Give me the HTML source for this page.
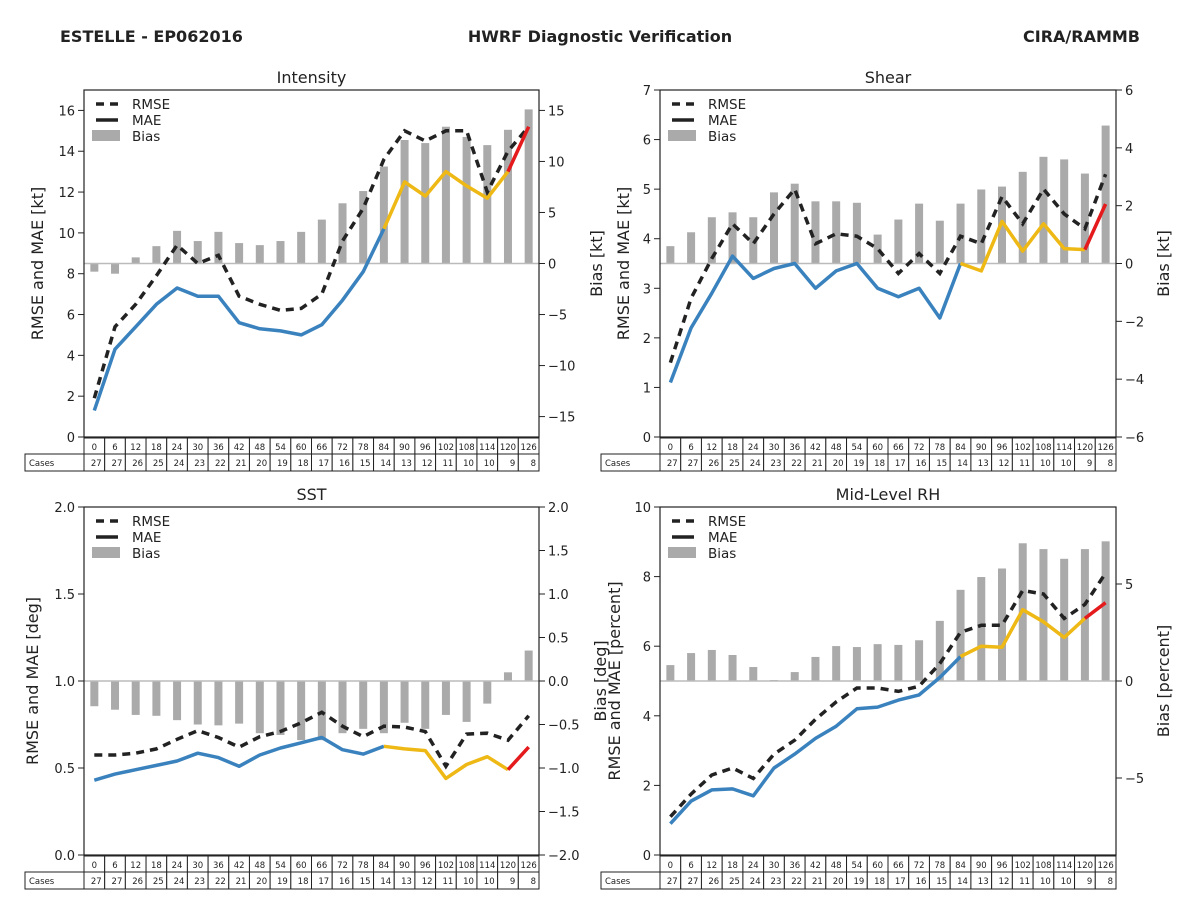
<!DOCTYPE html>
<html><head><meta charset="utf-8"><style>
html,body{margin:0;padding:0;background:#fff;}
svg{display:block;font-family:"DejaVu Sans","Liberation Sans",sans-serif;}
</style></head><body>
<svg id="chart" width="1200" height="900" viewBox="0 0 1200 900">
<text x="60" y="42" font-size="16" font-weight="bold" fill="#222">ESTELLE - EP062016</text>
<text x="600" y="42" font-size="16" font-weight="bold" fill="#222" text-anchor="middle">HWRF Diagnostic Verification</text>
<text x="1140" y="42" font-size="16" font-weight="bold" fill="#222" text-anchor="end">CIRA/RAMMB</text>
</svg>
<script>
const hours = [0,6,12,18,24,30,36,42,48,54,60,66,72,78,84,90,96,102,108,114,120,126];
const cases = [27,27,26,25,24,23,22,21,20,19,18,17,16,15,14,13,12,11,10,10,9,8];

const intRmse = [1.9,5.4,6.5,7.9,9.4,8.5,8.9,6.9,6.5,6.2,6.3,7.0,9.6,11.2,13.6,15.0,14.5,15.0,15.0,12.0,14.0,15.2];
const intMae  = [1.3,4.3,5.4,6.5,7.3,6.9,6.9,5.6,5.3,5.2,5.0,5.5,6.7,8.1,10.2,12.5,11.8,13.0,12.3,11.7,13.0,15.2];
const intBias = [-0.8,-1.0,0.6,1.7,3.2,2.2,3.1,2.0,1.8,2.2,3.1,4.3,5.9,7.1,9.5,12.1,11.8,13.4,12.4,11.6,13.1,15.1];

const shrRmse = [1.5,2.8,3.6,4.3,3.9,4.5,5.0,3.9,4.1,4.05,3.8,3.3,3.7,3.3,4.05,3.9,4.85,4.3,5.0,4.5,4.2,5.3];
const shrMae  = [1.1,2.2,2.9,3.65,3.2,3.4,3.5,3.0,3.35,3.5,3.0,2.83,3.0,2.4,3.5,3.35,4.35,3.75,4.3,3.8,3.78,4.7];
const shrBias = [0.6,1.08,1.6,1.77,1.6,2.46,2.76,2.15,2.15,2.1,1.0,1.52,2.07,1.48,2.07,2.56,2.66,3.17,3.69,3.6,3.11,4.77];

const sstRmse = [0.575,0.575,0.585,0.61,0.665,0.715,0.675,0.62,0.68,0.71,0.76,0.82,0.74,0.68,0.74,0.735,0.71,0.51,0.695,0.70,0.66,0.80];
const sstMae  = [0.43,0.465,0.49,0.515,0.54,0.585,0.56,0.51,0.575,0.615,0.645,0.675,0.605,0.58,0.625,0.61,0.60,0.44,0.52,0.565,0.49,0.62];
const sstBias = [-0.29,-0.33,-0.39,-0.4,-0.45,-0.5,-0.51,-0.49,-0.6,-0.62,-0.68,-0.68,-0.6,-0.55,-0.6,-0.48,-0.55,-0.39,-0.47,-0.26,0.1,0.35];

const rhRmse = [1.1,1.75,2.3,2.5,2.2,2.9,3.3,3.9,4.4,4.8,4.8,4.7,4.85,5.5,6.4,6.6,6.6,7.6,7.5,6.8,7.2,8.1];
const rhMae  = [0.9,1.55,1.87,1.9,1.7,2.5,2.9,3.35,3.7,4.2,4.25,4.45,4.6,5.1,5.7,6.0,5.97,7.05,6.7,6.25,6.8,7.25];
const rhBias = [0.82,1.44,1.6,1.34,0.72,0.05,0.46,1.24,1.8,1.75,1.9,1.86,2.1,3.1,4.7,5.36,5.8,7.1,6.8,6.3,6.8,7.2];

const intLeftTicks = [0,2,4,6,8,10,12,14,16];
const intRightTicks = [-15,-10,-5,0,5,10,15];
const shrLeftTicks = [0,1,2,3,4,5,6,7];
const shrRightTicks = [-6,-4,-2,0,2,4,6];
const sstLeftTicks = [0,0.5,1.0,1.5,2.0];
const sstRightTicks = [-2,-1.5,-1,-0.5,0,0.5,1,1.5,2];
const rhLeftTicks = [0,2,4,6,8,10];
const rhRightTicks = [-5,0,5];

const NS = 'http://www.w3.org/2000/svg';
const svg = document.getElementById('chart');
function mk(tag, attrs, parent){
  const e = document.createElementNS(NS, tag);
  for (const k in attrs) e.setAttribute(k, attrs[k]);
  (parent||svg).appendChild(e); return e;
}
function fmt(v, dec){ const s = v.toFixed(dec); return s.replace('-', '\u2212'); }

function panel(o){
  const g = mk('g', {});
  
  
  const L=o.x, R=o.x+o.w, T=o.y, B=o.y+o.h;
  const xs = i => L + (i+0.5)*o.w/hours.length;
  const yl = v => B - (v - o.lmin)/(o.lmax - o.lmin)*o.h;
  const yr = v => B - (v - o.rmin)/(o.rmax - o.rmin)*o.h;
  const z = yr(0);
  o.bias.forEach((v,i)=>{
    const y1 = yr(v);
    const r = mk('rect', {x: xs(i)-4, y: Math.min(y1,z), width: 8, height: Math.abs(y1-z), fill:'#aaaaaa'}, g);
    
    
  });
  const zl = mk('line', {x1:L, x2:R, y1:z, y2:z, stroke:'#bbbbbb', 'stroke-width':1.5}, g);
  
  
  const rp = o.rmse.map((v,i)=>xs(i).toFixed(1)+','+yl(v).toFixed(1)).join(' ');
  const rl = mk('polyline', {points: rp, fill:'none', stroke:'#222', 'stroke-width':3.5, 'stroke-dasharray':'8 6'}, g);
  
  
  const segs = [[0,14,'#3a82be','mae-line-early'],[14,20,'#eeb815','mae-line-mid'],[20,21,'#e41a1c','mae-line-late']];
  segs.forEach(s=>{
    const pts = [];
    for (let i=s[0]; i<=s[1]; i++) pts.push(xs(i).toFixed(1)+','+yl(o.mae[i]).toFixed(1));
    const p = mk('polyline', {points: pts.join(' '), fill:'none', stroke:s[2], 'stroke-width':3.5, 'stroke-linejoin':'round'}, g);
    
    
  });
  const fr = mk('rect', {x:L, y:T, width:o.w, height:o.h, fill:'none', stroke:'#222', 'stroke-width':1.2}, g);
  
  
  o.lt.forEach(v=>{
    const y = yl(v);
    mk('line', {x1:L-6, x2:L, y1:y, y2:y, stroke:'#222', 'stroke-width':1}, g);
    const t = mk('text', {x:L-9, y:y+5, 'font-size':13, fill:'#222', 'text-anchor':'end'}, g);
    t.textContent = fmt(v, o.ldec);
    
    
  });
  o.rt.forEach(v=>{
    const y = yr(v);
    mk('line', {x1:R, x2:R+6, y1:y, y2:y, stroke:'#222', 'stroke-width':1}, g);
    const t = mk('text', {x:R+9, y:y+5, 'font-size':13, fill:'#222'}, g);
    t.textContent = fmt(v, o.rdec);
    
    
  });
  const tt = mk('text', {x:(L+R)/2, y:T-7, 'font-size':16, fill:'#222', 'text-anchor':'middle'}, g);
  tt.textContent = o.title;
  
  
  const cy = (T+B)/2;
  const lt = mk('text', {x:0, y:0, 'font-size':16, fill:'#222', 'text-anchor':'middle', transform:`translate(${o.llx},${cy}) rotate(-90)`}, g);
  lt.textContent = o.llab;
  
  
  const rt = mk('text', {x:0, y:0, 'font-size':16, fill:'#222', 'text-anchor':'middle', transform:`translate(${R+o.rlx},${cy}) rotate(-90)`}, g);
  rt.textContent = o.rlab;
  
  
  const lg = mk('g', {}, g);
  
  
  mk('line', {x1:L+12, x2:L+34, y1:T+14, y2:T+14, stroke:'#222', 'stroke-width':3.5, 'stroke-dasharray':'8 6'}, lg);
  mk('line', {x1:L+12, x2:L+34, y1:T+30, y2:T+30, stroke:'#222', 'stroke-width':3.5}, lg);
  mk('rect', {x:L+8, y:T+40, width:28, height:11, fill:'#aaaaaa'}, lg);
  [['RMSE',T+19],['MAE',T+35],['Bias',T+51]].forEach(a=>{
    const t = mk('text', {x:L+48, y:a[1], 'font-size':13.5, fill:'#222'}, lg);
    t.textContent = a[0];
    
    
  });
  const tb = mk('g', {}, g);
  
  
  const cw = o.w/hours.length;
  const r1 = B+1, r2 = B+17, r3 = B+34;
  mk('rect', {x:L-59, y:r2, width:59, height:r3-r2, fill:'#fff', stroke:'#222', 'stroke-width':1}, tb);
  const cl = mk('text', {x:L-55, y:r2+12, 'font-size':8.5, fill:'#222'}, tb);
  cl.textContent = 'Cases';
  hours.forEach((h,i)=>{
    const x0 = L + i*cw;
    mk('rect', {x:x0, y:r1, width:cw, height:r2-r1, fill:'#fff', stroke:'#222', 'stroke-width':1}, tb);
    mk('rect', {x:x0, y:r2, width:cw, height:r3-r2, fill:'#fff', stroke:'#222', 'stroke-width':1}, tb);
    const t1 = mk('text', {x:x0+cw/2, y:r1+12, 'font-size':8.5, fill:'#222', 'text-anchor':'middle'}, tb);
    t1.textContent = h;
    const t2 = mk('text', {x:x0+cw-3, y:r2+12, 'font-size':8.5, fill:'#222', 'text-anchor':'end'}, tb);
    t2.textContent = cases[i];
  });
}

panel({name:'intensity', title:'Intensity', x:84, y:90, w:455, h:347, lmin:0, lmax:17, rmin:-17, rmax:17,
  rmse:intRmse, mae:intMae, bias:intBias, lt:intLeftTicks, rt:intRightTicks, ldec:0, rdec:0,
  llab:'RMSE and MAE [kt]', rlab:'Bias [kt]', llx:43, rlx:63});
panel({name:'shear', title:'Shear', x:660, y:90, w:456, h:347, lmin:0, lmax:7, rmin:-6, rmax:6,
  rmse:shrRmse, mae:shrMae, bias:shrBias, lt:shrLeftTicks, rt:shrRightTicks, ldec:0, rdec:0,
  llab:'RMSE and MAE [kt]', rlab:'Bias [kt]', llx:629, rlx:53});
panel({name:'sst', title:'SST', x:84, y:507, w:455, h:348, lmin:0, lmax:2, rmin:-2, rmax:2,
  rmse:sstRmse, mae:sstMae, bias:sstBias, lt:sstLeftTicks, rt:sstRightTicks, ldec:1, rdec:1,
  llab:'RMSE and MAE [deg]', rlab:'Bias [deg]', llx:38, rlx:67});
panel({name:'mid-level-rh', title:'Mid-Level RH', x:660, y:507, w:456, h:348, lmin:0, lmax:10, rmin:-8.97, rmax:8.97,
  rmse:rhRmse, mae:rhMae, bias:rhBias, lt:rhLeftTicks, rt:rhRightTicks, ldec:0, rdec:0,
  llab:'RMSE and MAE [percent]', rlab:'Bias [percent]', llx:620, rlx:53});
</script>
</body></html>
